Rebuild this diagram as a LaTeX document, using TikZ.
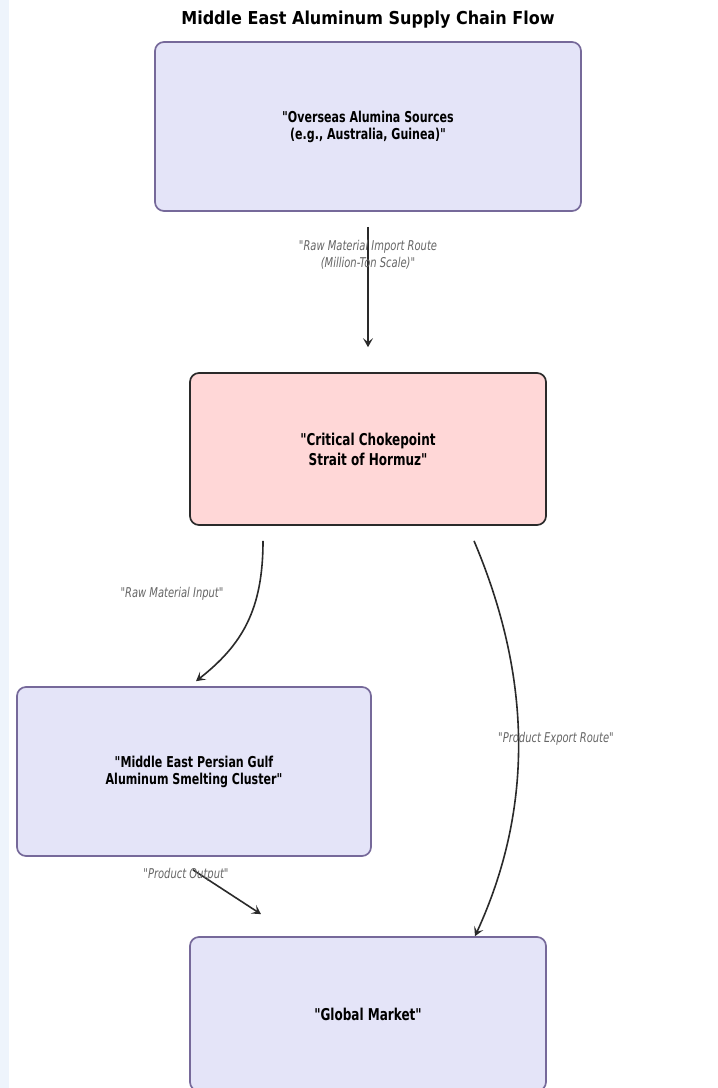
\documentclass[tikz,border=0pt]{standalone}
\usepackage{fontspec}
\newfontfamily\cond[FakeStretch=0.82]{DejaVu Sans Condensed}
\newfontfamily\condtitle{DejaVu Sans Condensed}
\usetikzlibrary{arrows.meta,calc}
\definecolor{boxfill}{HTML}{E4E4F8}
\definecolor{boxline}{HTML}{76699A}
\definecolor{hotfill}{HTML}{FFD7D7}
\definecolor{hotline}{HTML}{2A2A2A}
\definecolor{lblgrey}{HTML}{666666}
\definecolor{arrowline}{HTML}{2A2A2A}
\definecolor{stripblue}{HTML}{EEF4FC}
\begin{document}
\begin{tikzpicture}[x=1pt,y=-1pt,
  every node/.style={font=\cond},
  flowbox/.style={draw=boxline, fill=boxfill, line width=1.7pt, rounded corners=9pt, align=center, font=\cond\bfseries\fontsize{15}{17}\selectfont, inner sep=0pt},
  bigtext/.style={font=\cond\bfseries\fontsize{16.3}{20}\selectfont},
  hotbox/.style={flowbox, bigtext, draw=hotline, fill=hotfill},
  flowarrow/.style={draw=arrowline, line width=1.6pt, -{Stealth[length=9pt,width=10pt,inset=4pt]}},
  edgelbl/.style={text=lblgrey, align=center, font=\cond\itshape\fontsize{13.5}{17}\selectfont, inner sep=1pt}
]
\useasboundingbox (0,0) rectangle (718,1088);
\clip (0,0) rectangle (718,1088);
\fill[white] (0,0) rectangle (718,1088);
\fill[stripblue] (0,0) rectangle (9,1088);

\node[font=\condtitle\bfseries\fontsize{17.8}{20}\selectfont] (title) at (368,20) {Middle East Aluminum Supply Chain Flow};

\node[flowbox, minimum width=426pt, minimum height=169pt] (src) at (368,126.5) {"Overseas Alumina Sources\\(e.g., Australia, Guinea)"};
\node[hotbox, minimum width=356pt, minimum height=152pt] (hz) at (368,449) {"Critical Chokepoint\\Strait of Hormuz"};
\node[flowbox, minimum width=354pt, minimum height=169pt] (sm) at (194,771.5) {"Middle East Persian Gulf\\Aluminum Smelting Cluster"};
\node[flowbox, bigtext, minimum width=356pt, minimum height=154pt] (gm) at (368,1014) {"Global Market"};

\draw[flowarrow] ([yshift=-15pt]src.south) -- ([yshift=25pt]hz.north);
\node[edgelbl] (l1) at (368,254.5) {"Raw Material Import Route\\(Million-Ton Scale)"};

\draw[flowarrow] ([xshift=-105pt,yshift=-15pt]hz.south) .. controls (263,610) and (242,645) .. ([xshift=2pt,yshift=5pt]sm.north);
\node[edgelbl] (l2) at (172,594) {"Raw Material Input"};

\draw[flowarrow] ([xshift=-1pt,yshift=-13pt]sm.south) -- ([xshift=-107pt,yshift=22pt]gm.north);
\node[edgelbl] (l3) at (186,875) {"Product Output"};

\draw[flowarrow] ([xshift=106pt,yshift=-15pt]hz.south) .. controls (533,680) and (533,810) .. ([xshift=107pt]gm.north);
\node[edgelbl] (l4) at (556,739) {"Product Export Route"};
\end{tikzpicture}
\end{document}
